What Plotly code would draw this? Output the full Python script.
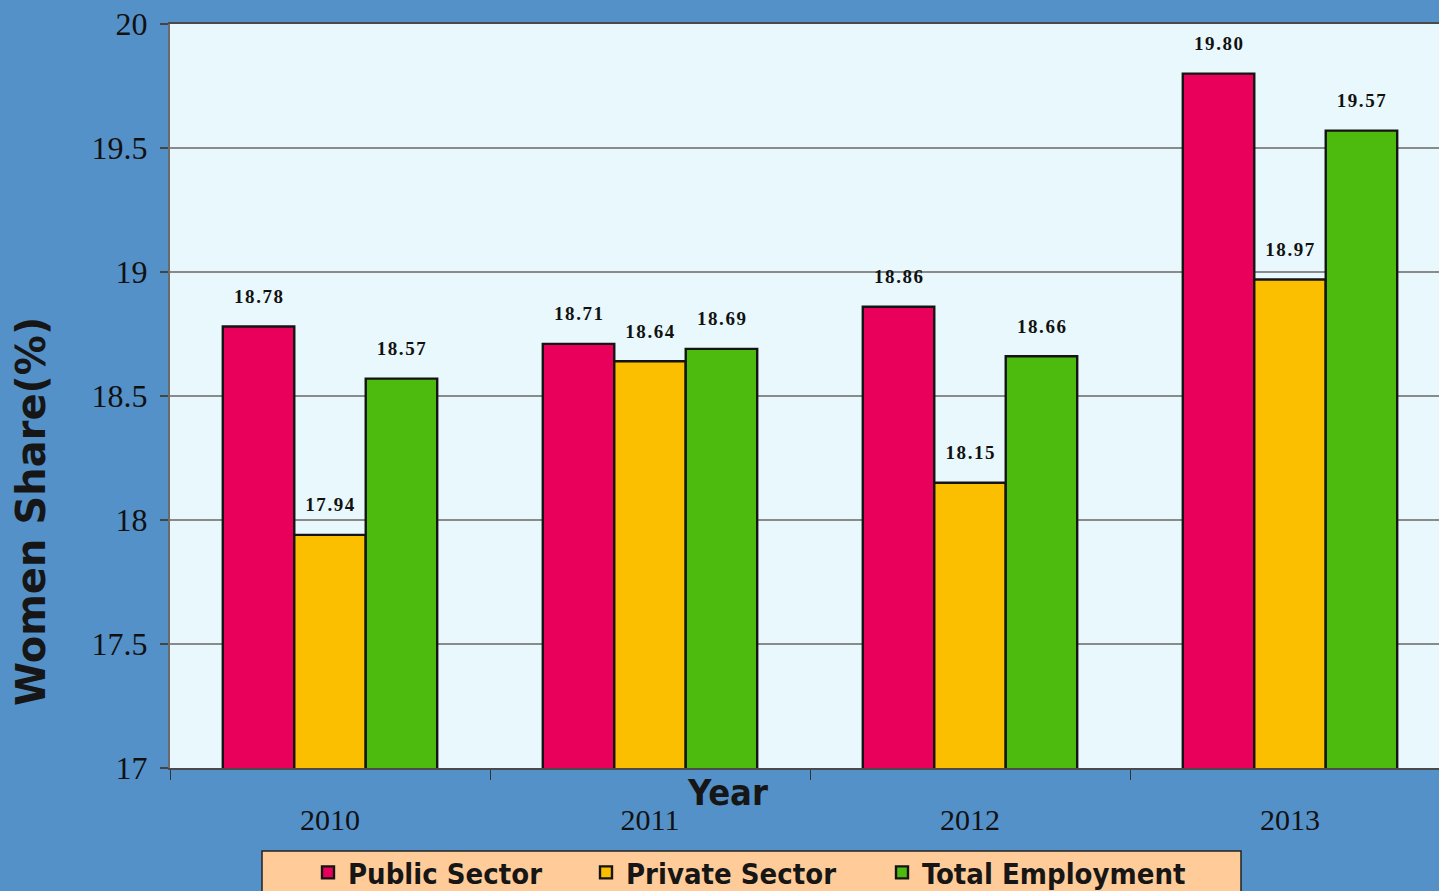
import plotly.graph_objects as go

years = ["2010", "2011", "2012", "2013"]
public_sector = [18.78, 18.71, 18.86, 19.80]
private_sector = [17.94, 18.64, 18.15, 18.97]
total_employment = [18.57, 18.69, 18.66, 19.57]
series_names = ["Public Sector", "Private Sector", "Total Employment"]
y_ticks = [17, 17.5, 18, 18.5, 19, 19.5, 20]

colors = ["#E8005A", "#FCBF00", "#4DBB0D"]

W, H = 1439, 891
ML, MT, MB = 170, 24, 123
CAT_PX = 320  # width of one category in px
plot_w = W - ML
plot_h = H - MT - MB


def px_x(px):
    return (px - ML) / plot_w


def px_y(py):
    return ((H - MB) - py) / plot_h


SP = "\u200a"


def label(v):
    return ("<span style='font-size:19px'>" + SP.join(f"{v:.2f}") + "</span>"
            + "<br><span style='font-size:4px'>\u00a0</span>")


legend_ids = ["legend", "legend2", "legend3"]
legend_left_px = [308, 586, 882]

fig = go.Figure()
for name, vals, col, lid in zip(series_names, [public_sector, private_sector, total_employment],
                                colors, legend_ids):
    fig.add_trace(go.Bar(
        x=years, y=vals, name=name, legend=lid,
        marker=dict(color=col, line=dict(color="#141414", width=2.4)),
        text=[label(v) for v in vals],
        textposition="outside",
        constraintext="none",
        cliponaxis=False,
        textfont=dict(family="Liberation Serif, serif", size=15, color="#111111", weight="bold"),
    ))

legend_common = dict(
    orientation="h",
    xanchor="left",
    y=px_y(847), yanchor="top",
    bgcolor="rgba(0,0,0,0)",
    borderwidth=0,
    font=dict(family="DejaVu Sans Condensed, sans-serif", size=29,
              color="#161616", weight="bold"),
)

fig.update_layout(
    width=W, height=H, autosize=False,
    margin=dict(l=ML, r=0, t=MT, b=MB, pad=0, autoexpand=False),
    paper_bgcolor="#5591C9",
    plot_bgcolor="#E8F8FC",
    barmode="group",
    bargap=0.33,
    bargroupgap=0,
    showlegend=True,
    legend=dict(x=px_x(legend_left_px[0]), **legend_common),
    legend2=dict(x=px_x(legend_left_px[1]), **legend_common),
    legend3=dict(x=px_x(legend_left_px[2]), **legend_common),
    shapes=[
        dict(type="rect", xref="paper", yref="paper", layer="below",
             x0=px_x(262), x1=px_x(1241), y0=px_y(851), y1=px_y(905),
             fillcolor="#FFCC99", line=dict(color="#222222", width=1.5)),
    ],
    xaxis=dict(
        type="category",
        range=[-0.5, -0.5 + plot_w / CAT_PX],
        showline=True, linecolor="#4a4a4a", linewidth=2, mirror=True,
        ticks="outside", ticklen=10, tickwidth=1.2, tickcolor="#333333",
        tickson="boundaries",
        ticklabelstandoff=24,
        tickfont=dict(family="Liberation Serif, serif", size=30, color="#111111"),
        showgrid=False,
    ),
    yaxis=dict(
        range=[17, 20],
        tickvals=y_ticks,
        ticktext=[f"{t:g}" for t in y_ticks],
        showline=True, linecolor="#6a6a6a", linewidth=2, mirror=False,
        ticks="outside", ticklen=8, tickwidth=2, tickcolor="#444444",
        ticklabelstandoff=6,
        tickfont=dict(family="Liberation Serif, serif", size=32, color="#111111"),
        showgrid=True, gridcolor="#8a8a8a", gridwidth=1.5,
        zeroline=False,
    ),
    annotations=[
        dict(text="Year", xref="paper", yref="paper",
             x=px_x(727), y=px_y(792),
             xanchor="center", yanchor="middle", showarrow=False,
             font=dict(family="DejaVu Sans Condensed, sans-serif", size=36,
                       color="#161616", weight="bold")),
        dict(text="Women Share(%)", xref="paper", yref="paper", textangle=-90,
             x=px_x(31), y=px_y(512),
             xanchor="center", yanchor="middle", showarrow=False,
             font=dict(family="DejaVu Sans, sans-serif", size=40, color="#161616", weight="bold")),
    ],
)

fig.write_html(
    "out.html",
    config={"responsive": False, "displayModeBar": False},
    post_script="document.body.style.margin='0';document.body.style.overflow='hidden';",
)
